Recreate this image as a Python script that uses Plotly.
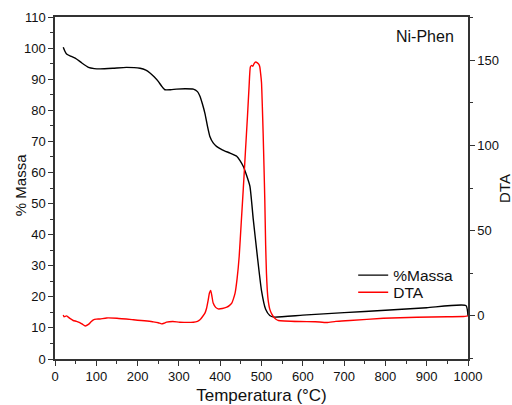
import plotly.graph_objects as go

# %Massa (left axis)
mass_t = [20, 24, 28, 40, 52, 65, 81, 95, 109, 140, 173, 206, 220, 230, 240, 250, 258, 266,
          280, 294, 315, 335, 345, 351, 357, 363, 369, 375, 383, 391, 405, 424, 440, 448,
          456, 464, 472, 480, 490, 500, 510, 520, 530, 600, 700, 800, 900, 995, 1000]
mass = [100.3, 99.0, 98.1, 97.3, 96.5, 95.2, 93.8, 93.4, 93.3, 93.5, 93.8, 93.5, 92.9, 92.0,
        90.8, 89.3, 87.8, 86.6, 86.6, 86.8, 86.9, 86.8, 86.0, 84.5, 82.0, 79.0, 75.0, 71.6,
        69.5, 68.4, 67.3, 66.2, 65.2, 63.8, 61.9, 59.0, 55.5, 45.0, 33.0, 22.0, 16.0, 14.0,
        13.5, 14.1, 14.9, 15.7, 16.5, 17.2, 13.8]

# DTA (right axis)
dta_t = [20, 22, 28, 36, 44, 52, 60, 67, 73, 81, 88, 93, 100, 109, 125, 150, 190, 238, 250,
         258, 264, 270, 285, 302, 335, 345, 351, 357, 363, 367, 371, 374, 377, 380, 383, 389,
         395, 405, 416, 422, 428, 432, 436, 441, 446, 451, 456, 461, 466, 470, 473, 476, 479,
         482, 486, 490, 494, 496, 498, 500, 502, 504, 506, 508, 510, 512, 514, 516, 520, 525,
         529, 535, 541, 593, 630, 658, 680, 714, 795, 876, 950, 989, 1000]
dta = [0.5, -0.5, 0.0, -1.5, -2.7, -3.2, -3.9, -5.0, -5.9, -5.0, -3.3, -2.3, -1.9, -1.8, -1.2,
       -1.4, -2.3, -3.5, -4.0, -4.7, -4.3, -3.7, -3.3, -3.7, -3.7, -3.2, -2.3, -0.5, 1.6, 4.5,
       9.4, 13.5, 15.0, 11.5, 7.5, 5.0, 4.1, 4.3, 5.1, 6.0, 7.5, 10.0, 13.3, 22.0, 35.0, 55.0,
       75.0, 96.0, 117.0, 135.0, 146.0, 147.0, 146.5, 148.0, 149.0, 148.5, 147.5, 146.0, 142.0,
       137.0, 123.0, 107.0, 88.0, 68.0, 42.0, 25.0, 15.0, 9.4, 4.0, 1.0, -0.5, -2.0, -2.7,
       -3.3, -3.4, -3.9, -3.2, -2.7, -1.4, -0.8, -0.5, -0.4, 0.0]

FONT = "Liberation Sans, Arial, sans-serif"
AX = "#333333"
TXT = "#111111"

fig = go.Figure()
fig.add_trace(go.Scatter(x=mass_t, y=mass, name="%Massa", mode="lines", legend="legend",
                         line=dict(color="#000000", width=1.4, shape="spline", smoothing=0.5)))
fig.add_trace(go.Scatter(x=dta_t, y=dta, name="DTA", mode="lines", yaxis="y2", legend="legend2",
                         line=dict(color="#ff0000", width=1.4, shape="spline", smoothing=0.5)))

leg_common = dict(xanchor="left", yanchor="middle", bgcolor="rgba(0,0,0,0)",
                  font=dict(size=15.5, color=TXT), itemwidth=30)

fig.update_layout(
    width=512, height=405,
    margin=dict(l=55, r=44, t=17, b=46, autoexpand=False),
    paper_bgcolor="white", plot_bgcolor="white",
    font=dict(family=FONT, size=13, color=TXT),
    showlegend=True,
    legend=dict(x=0.722, y=0.244, **leg_common),
    legend2=dict(x=0.722, y=0.194, **leg_common),
    xaxis=dict(range=[0, 1000], tickvals=list(range(0, 1001, 100)), automargin=False,
               showgrid=False, zeroline=False, showline=True, linecolor=AX, linewidth=1.5,
               mirror=True, ticks="outside", ticklen=5, tickcolor=AX,
               minor=dict(dtick=50, ticks="outside", ticklen=3, tickcolor=AX),
               title=dict(text="Temperatura (°C)", font=dict(size=17), standoff=8)),
    yaxis=dict(range=[0, 110], tickvals=list(range(0, 111, 10)), automargin=False,
               showgrid=False, zeroline=False, showline=True, linecolor=AX, linewidth=1.5,
               ticks="outside", ticklen=5, tickcolor=AX,
               minor=dict(dtick=5, ticks="outside", ticklen=3, tickcolor=AX)),
    yaxis2=dict(range=[-25.3, 175.4], tickvals=[0, 50, 100, 150], overlaying="y", side="right",
                automargin=False,
                showgrid=False, zeroline=False, showline=True, linecolor=AX, linewidth=1.5,
                ticks="outside", ticklen=5, tickcolor=AX,
                minor=dict(tickvals=[-25, 25, 75, 125, 175], ticks="outside", ticklen=3, tickcolor=AX)),
    annotations=[
        dict(text="Ni-Phen", x=0.971, y=0.943, xref="paper", yref="paper",
             xanchor="right", yanchor="middle", showarrow=False,
             font=dict(size=16, color=TXT)),
        dict(text="% Massa", x=-0.085, y=0.508, xref="paper", yref="paper", textangle=-90,
             xanchor="center", yanchor="middle", showarrow=False,
             font=dict(size=15, color=TXT)),
        dict(text="DTA", x=1.087, y=0.50, xref="paper", yref="paper", textangle=-90,
             xanchor="center", yanchor="middle", showarrow=False,
             font=dict(size=15, color=TXT)),
    ],
)

fig.write_html("out.html", config={"displayModeBar": False},
               post_script="document.body.style.margin='0';")
